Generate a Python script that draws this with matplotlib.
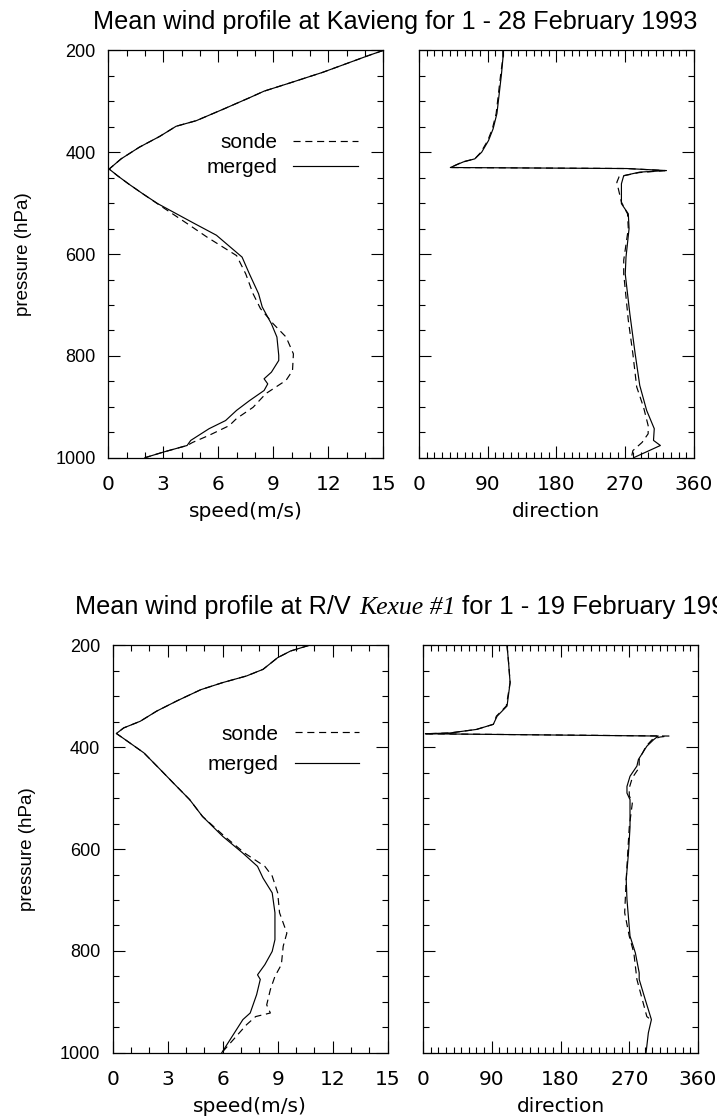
import matplotlib
matplotlib.use("Agg")
import matplotlib.pyplot as plt
from matplotlib.ticker import MultipleLocator

# Kavieng, 1 - 28 February 1993
kav_p_merged = [200, 210, 243, 264, 280, 293, 315, 338, 349, 369, 390, 413, 433, 446, 462, 482,
                501, 540, 563, 606, 639, 678, 704, 737, 763, 799, 809, 832, 845, 855, 868, 888,
                907, 927, 943, 966, 976, 989, 1000]
kav_spd_merged = [15.0, 14.2, 11.7, 9.9, 8.5, 7.7, 6.3, 4.8, 3.7, 2.8, 1.7, 0.7, 0.05, 0.5, 1.1, 1.9,
                  2.7, 4.7, 5.9, 7.3, 7.7, 8.2, 8.4, 8.9, 9.2, 9.3, 9.3, 8.9, 8.5, 8.7, 8.5, 7.7,
                  7.0, 6.4, 5.5, 4.5, 4.3, 3.0, 2.0]
kav_p_sonde = [200, 210, 243, 264, 280, 293, 315, 338, 349, 369, 390, 413, 433, 446, 462, 482,
               504, 540, 567, 603, 639, 678, 707, 737, 763, 796, 829, 848, 874, 901, 923, 937,
               956, 970, 976, 989, 1000]
kav_spd_sonde = [15.0, 14.2, 11.7, 9.9, 8.5, 7.7, 6.3, 4.8, 3.7, 2.8, 1.7, 0.7, 0.05, 0.5, 1.1, 1.9,
                 2.8, 4.3, 5.4, 7.0, 7.5, 7.9, 8.3, 9.0, 9.7, 10.1, 10.05, 9.7, 8.6, 7.9, 7.0, 6.6,
                 5.5, 4.6, 4.3, 3.0, 2.0]

kav_pd_merged = [200, 213, 246, 285, 324, 354, 377, 400, 413, 419, 430, 432, 436, 439, 446, 462,
                 501, 521, 550, 606, 639, 717, 796, 858, 907, 943, 966, 976, 1000]
kav_dir_merged = [110, 110, 108, 105, 102, 97, 91, 82, 73, 58, 41, 272, 324, 289, 268, 265,
                  265, 274, 275, 271, 270, 276, 283, 289, 298, 308, 307, 316, 281]
kav_pd_sonde = [200, 213, 246, 285, 324, 354, 377, 400, 413, 419, 430, 432, 436, 440, 448, 459,
                498, 521, 550, 612, 639, 730, 796, 861, 901, 937, 953, 970, 986, 1000]
kav_dir_sonde = [110, 110, 107, 104, 101, 96, 90, 81, 73, 57, 41, 272, 322, 288, 262, 259,
                 265, 273, 274, 268, 268, 274, 280, 285, 294, 300, 300, 292, 280, 278]

# R/V Kexue #1, 1 - 19 February 1993
kex_p_merged = [200, 211, 224, 247, 260, 273, 287, 309, 329, 349, 362, 373, 383, 411, 444, 470,
                503, 536, 575, 608, 634, 657, 686, 725, 778, 801, 827, 847, 856, 886, 922, 935, 1000]
kex_spd_merged = [10.7, 9.7, 9.0, 8.2, 7.3, 6.0, 4.8, 3.5, 2.4, 1.5, 0.6, 0.2, 0.6, 1.7, 2.6, 3.3,
                  4.2, 4.9, 6.0, 7.1, 7.9, 8.2, 8.7, 8.85, 8.85, 8.7, 8.3, 7.9, 8.05, 7.85, 7.5, 7.1, 5.95]
kex_p_sonde = [200, 211, 224, 247, 260, 273, 287, 309, 329, 349, 362, 373, 383, 411, 444, 470,
               503, 536, 575, 608, 634, 653, 686, 725, 765, 791, 827, 850, 876, 906, 922, 929,
               945, 998]
kex_spd_sonde = [10.7, 9.7, 9.0, 8.2, 7.3, 6.0, 4.8, 3.5, 2.4, 1.5, 0.6, 0.2, 0.6, 1.7, 2.6, 3.3,
                 4.2, 4.9, 6.1, 7.2, 8.3, 8.7, 9.0, 9.1, 9.5, 9.3, 9.2, 8.85, 8.6, 8.4, 8.6, 7.8,
                 7.3, 6.0]

kex_pd_merged = [200, 234, 273, 319, 339, 355, 365, 372, 373.5, 378, 385, 398, 424, 437, 457, 477,
                 490, 503, 557, 607, 660, 699, 771, 804, 843, 856, 896, 935, 961, 1000]
kex_dir_merged = [110, 112, 114, 110, 97, 92, 70, 35, 3, 308, 302, 293, 282, 280, 271, 267,
                  267, 271, 271, 269, 266, 267, 271, 278, 283, 283, 291, 299, 295, 292]
kex_pd_sonde = [200, 234, 273, 319, 339, 355, 365, 372, 373.5, 378, 380, 385, 398, 424, 440, 460,
                480, 495, 510, 557, 607, 660, 725, 771, 804, 856, 929, 935]
kex_dir_sonde = [110, 112, 114, 109, 96, 92, 70, 35, 3, 322, 310, 300, 292, 283, 283, 274,
                 270, 270, 274, 270, 268, 266, 264, 270, 276, 280, 293, 298]

SANS = "Liberation Sans"
TICKFONT = "DejaVu Sans"
LW = 0.85
DASH = (6, 4)

fig = plt.figure(figsize=(7.17, 11.18), dpi=100)


def style_axes(ax, xmax, xmajor, xminor, left_labels):
    ax.set_ylim(1000, 200)
    ax.set_xlim(0, xmax)
    ax.xaxis.set_major_locator(MultipleLocator(xmajor))
    ax.xaxis.set_minor_locator(MultipleLocator(xminor))
    ax.yaxis.set_major_locator(MultipleLocator(200))
    ax.yaxis.set_minor_locator(MultipleLocator(50))
    ax.tick_params(which="both", direction="in", top=True, right=True, width=0.8, color="black")
    ax.tick_params(which="major", length=8.5)
    ax.tick_params(which="minor", length=4.5)
    ax.tick_params(axis="x", which="major", pad=12.5)
    ax.tick_params(axis="y", which="major", pad=9)
    for sp in ax.spines.values():
        sp.set_linewidth(0.9)
    for lab in ax.get_xticklabels():
        lab.set_fontfamily(TICKFONT)
        lab.set_fontsize(14.5)
    if left_labels:
        for lab in ax.get_yticklabels():
            lab.set_fontfamily(SANS)
            lab.set_fontsize(13)
        ax.set_ylabel("pressure (hPa)", fontfamily=SANS, fontsize=13.5, labelpad=17)
    else:
        ax.set_yticklabels([])


def draw_pair(bottom, left_l, left_r, spd, dirn, leg_anchor, leg_spacing):
    p_m, v_m, p_s, v_s = spd
    pd_m, d_m, pd_s, d_s = dirn
    height = 0.3643
    axl = fig.add_axes([left_l, bottom, 0.3835, height])
    axr = fig.add_axes([left_r, bottom, 0.3835, height])

    ls, = axl.plot(v_s, p_s, color="black", lw=LW, dashes=DASH, label="sonde")
    lm, = axl.plot(v_m, p_m, color="black", lw=LW, label="merged")
    axr.plot(d_s, pd_s, color="black", lw=LW, dashes=DASH)
    axr.plot(d_m, pd_m, color="black", lw=LW)

    style_axes(axl, 15, 3, 1, True)
    style_axes(axr, 360, 90, 10, False)
    axl.set_xlabel("speed(m/s)", fontfamily=TICKFONT, fontsize=14.5, labelpad=6)
    axr.set_xlabel("direction", fontfamily=TICKFONT, fontsize=14.5, labelpad=6)

    leg = axl.legend(handles=[ls, lm], loc="center right", bbox_to_anchor=leg_anchor,
                     frameon=False, markerfirst=False, handlelength=3.1, handletextpad=0.75,
                     labelspacing=leg_spacing, borderpad=0, borderaxespad=0,
                     prop={"family": SANS, "size": 15})
    for t in leg.get_texts():
        t.set_ha("right")
    return axl, axr


draw_pair(0.5906, 0.151, 0.5844,
          (kav_p_merged, kav_spd_merged, kav_p_sonde, kav_spd_sonde),
          (kav_pd_merged, kav_dir_merged, kav_pd_sonde, kav_dir_sonde),
          (0.908, 0.7425), 0.3)
draw_pair(0.0584, 0.1572, 0.590,
          (kex_p_merged, kex_spd_merged, kex_p_sonde, kex_spd_sonde),
          (kex_pd_merged, kex_dir_merged, kex_pd_sonde, kex_dir_sonde),
          (0.896, 0.745), 0.55)

# titles; the lower one mixes sans text with an italic ship name
W, H = fig.get_size_inches() * fig.dpi
fig.text(93 / W, 0.9745, "Mean wind profile at Kavieng for 1 - 28 February 1993",
         fontfamily=SANS, fontsize=18.2, va="baseline", ha="left")

ty = 0.4505
parts = [("Mean wind profile at R/V", SANS, "normal", 18.2, 0.0),
         ("Kexue #1", "Liberation Serif", "italic", 18.5, 9.0),
         ("for 1 - 19 February 1993", SANS, "normal", 18.5, 6.0)]
renderer = fig.canvas.get_renderer()
x = 75.0
for text, family, style, size, gap in parts:
    x += gap
    t = fig.text(x / W, ty, text, fontfamily=family, fontstyle=style, fontsize=size,
                 va="baseline", ha="left")
    x = t.get_window_extent(renderer).x1

fig.savefig("out.png", dpi=100)
